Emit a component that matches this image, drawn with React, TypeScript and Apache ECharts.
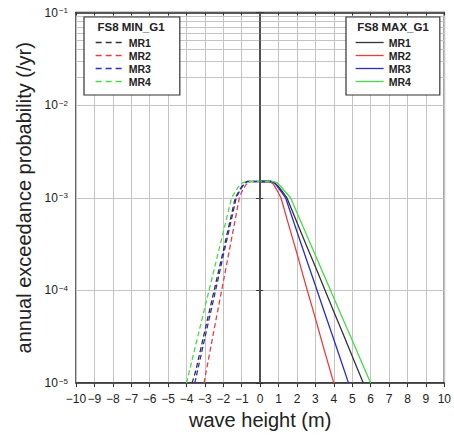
import React, { useEffect, useRef } from "react";
import * as echarts from "echarts";

const xTicks = [-10, -9, -8, -7, -6, -5, -4, -3, -2, -1, 0, 1, 2, 3, 4, 5, 6, 7, 8, 9, 10];
const decades = [1e-5, 1e-4, 1e-3, 1e-2, 1e-1];
const minorMultipliers = [2, 3, 4, 5, 6, 7, 8, 9];

const seriesNames = ["MR1", "MR2", "MR3", "MR4"];
const seriesColors = ["#333333", "#ee3b3b", "#2b2bd6", "#44dd44"];

// MAX_G1 (solid) curves: [wave height, annual exceedance probability]
const maxMR1 = [[0, 1.5e-3], [0.6, 1.5e-3], [0.8, 1.45e-3], [1.0, 1.32e-3], [1.2, 1.17e-3], [1.45, 1e-3], [2, 5.4e-4], [2.5, 3.1e-4], [3, 1.8e-4], [3.5, 1.03e-4], [4, 5.9e-5], [4.5, 3.4e-5], [5, 1.95e-5], [5.6, 1e-5]];
const maxMR2 = [[0, 1.5e-3], [0.5, 1.5e-3], [0.7, 1.42e-3], [0.9, 1.22e-3], [1.13, 1e-3], [1.5, 5.5e-4], [2, 2.5e-4], [2.5, 1.1e-4], [3, 5.0e-5], [3.5, 2.2e-5], [4, 1e-5]];
const maxMR3 = [[0, 1.5e-3], [0.6, 1.5e-3], [0.8, 1.43e-3], [1.0, 1.27e-3], [1.2, 1.12e-3], [1.38, 1e-3], [2, 4.3e-4], [2.5, 2.2e-4], [3, 1.13e-4], [3.5, 5.75e-5], [4, 2.95e-5], [4.5, 1.5e-5], [4.8, 1e-5]];
const maxMR4 = [[0, 1.5e-3], [0.7, 1.5e-3], [0.9, 1.46e-3], [1.1, 1.34e-3], [1.3, 1.2e-3], [1.65, 1e-3], [2, 6.9e-4], [2.5, 4.06e-4], [3, 2.4e-4], [3.5, 1.41e-4], [4, 8.3e-5], [4.5, 4.9e-5], [5, 2.9e-5], [5.5, 1.7e-5], [6, 1e-5]];

// MIN_G1 (dashed) curves
const minMR1 = [[-3.7, 1e-5], [-3.5, 1.35e-5], [-3, 3.7e-5], [-2.5, 1.0e-4], [-2, 2.7e-4], [-1.5, 7.4e-4], [-1.35, 1e-3], [-1.1, 1.23e-3], [-0.9, 1.42e-3], [-0.7, 1.5e-3], [0.6, 1.5e-3]];
const minMR2 = [[-3.05, 1e-5], [-2.5, 3.8e-5], [-2, 1.24e-4], [-1.5, 4.1e-4], [-1.13, 1e-3], [-1.0, 1.16e-3], [-0.8, 1.36e-3], [-0.6, 1.5e-3], [0.6, 1.5e-3]];
const minMR3 = [[-3.55, 1e-5], [-3, 3.1e-5], [-2.5, 8.5e-5], [-2, 2.4e-4], [-1.5, 6.6e-4], [-1.3, 1e-3], [-1.1, 1.2e-3], [-0.9, 1.38e-3], [-0.7, 1.5e-3], [0.6, 1.5e-3]];
const minMR4 = [[-4, 1e-5], [-3.5, 2.57e-5], [-3, 6.6e-5], [-2.5, 1.68e-4], [-2, 4.3e-4], [-1.55, 1e-3], [-1.4, 1.12e-3], [-1.2, 1.3e-3], [-1.0, 1.43e-3], [-0.8, 1.5e-3], [0.6, 1.5e-3]];

const maxData = [maxMR1, maxMR2, maxMR3, maxMR4];
const minData = [minMR1, minMR2, minMR3, minMR4];

const FONT = "'Liberation Sans', Arial, Helvetica, sans-serif";

export default function App() {
  const ref = useRef<HTMLDivElement>(null);
  useEffect(() => {
    if (!ref.current) return;
    const chart = echarts.init(ref.current, null, { renderer: "svg" });

    const minorValues: number[] = [];
    decades.slice(0, -1).forEach((d) => minorMultipliers.forEach((m) => minorValues.push(m * d)));

    const series: any[] = [];
    series.push({
      type: "line",
      name: "grid",
      data: [],
      silent: true,
      z: 1,
      markLine: {
        silent: true,
        symbol: "none",
        label: { show: false },
        lineStyle: { color: "#c4c4c4", width: 1, type: "solid" },
        data: minorValues.map((v) => ({ yAxis: v })),
      },
    });
    maxData.forEach((d, i) => {
      series.push({
        type: "line",
        name: "MAX " + seriesNames[i],
        data: d,
        symbol: "none",
        z: 3,
        lineStyle: { color: seriesColors[i], width: 1.3, type: "solid" },
        itemStyle: { color: seriesColors[i] },
      });
    });
    minData.forEach((d, i) => {
      series.push({
        type: "line",
        name: "MIN " + seriesNames[i],
        data: d,
        symbol: "none",
        z: 4,
        lineStyle: { color: seriesColors[i], width: 1.3, type: [5, 3] },
        itemStyle: { color: seriesColors[i] },
      });
    });
    series.push({
      type: "line",
      name: "zero",
      data: [],
      silent: true,
      z: 2,
      markLine: {
        silent: true,
        symbol: "none",
        label: { show: false },
        lineStyle: { color: "#555", width: 1.6, type: "solid" },
        data: [{ xAxis: 0 }],
      },
    });

    const legendCommon = {
      orient: "vertical",
      itemWidth: 28,
      itemHeight: 11,
      itemGap: 2,
      backgroundColor: "#fff",
      borderColor: "#333",
      borderWidth: 1.2,
      borderRadius: 0,
      textStyle: { fontFamily: FONT, fontWeight: "bold", fontSize: 10.5, color: "#222" },
      formatter: (n: string) => n.replace(/^M(IN|AX) /, ""),
      selectedMode: false,
      z: 10,
    };

    const legendItems = (prefix: string, dashed: boolean) =>
      seriesNames.map((n, i) => ({
        name: prefix + n,
        itemStyle: { opacity: 0 },
        lineStyle: { color: seriesColors[i], width: 1.3, type: dashed ? [6, 4] : "solid", opacity: 1 },
      }));

    const supExp = (v: number) => {
      const e = Math.round(Math.log10(v));
      return "{b|10}{s|" + (e < 0 ? "\u2212" + Math.abs(e) : String(e)) + "}";
    };

    chart.setOption({
      animation: false,
      backgroundColor: "#fff",
      grid: { left: 76, right: 6, top: 12.5, bottom: 49, show: true, borderColor: "#333", borderWidth: 1.5, backgroundColor: "transparent" },
      legend: [
        { ...legendCommon, left: 84, top: 17, padding: [20, 29, 8, 11], data: legendItems("MIN ", true) },
        { ...legendCommon, left: 346, top: 17, padding: [20, 29, 8, 9], data: legendItems("MAX ", false) },
      ],
      graphic: [
        { type: "text", x: 131, y: 27, z: 100, style: { text: "FS8 MIN_G1", fontFamily: FONT, fontWeight: "bold", fontSize: 11.5, fill: "#222", align: "center", verticalAlign: "middle" } },
        { type: "text", x: 393, y: 27, z: 100, style: { text: "FS8 MAX_G1", fontFamily: FONT, fontWeight: "bold", fontSize: 11.5, fill: "#222", align: "center", verticalAlign: "middle" } },
      ],
      xAxis: [
        {
          type: "value",
          min: xTicks[0],
          max: xTicks[xTicks.length - 1],
          interval: 1,
          position: "bottom",
          name: "wave height (m)",
          nameLocation: "middle",
          nameGap: 25,
          nameTextStyle: { fontFamily: FONT, fontSize: 20, color: "#222" },
          axisLine: { show: true, lineStyle: { color: "#333", width: 1.5 } },
          axisTick: { show: true, length: 4, inside: false, lineStyle: { color: "#333" } },
          axisLabel: {
            fontFamily: FONT,
            fontSize: 12,
            color: "#222",
            margin: 10,
            formatter: (v: number) => (v < 0 ? "\u2212" + Math.abs(v) : String(v)),
          },
          splitLine: { show: true, lineStyle: { color: "#c4c4c4", width: 1 } },
        },
        {
          type: "value",
          min: xTicks[0],
          max: xTicks[xTicks.length - 1],
          interval: 1,
          position: "top",
          axisLine: { show: true, lineStyle: { color: "#333", width: 1.5 } },
          axisTick: { show: true, length: 3, inside: true, lineStyle: { color: "#333" } },
          axisLabel: { show: false },
          splitLine: { show: false },
        },
      ],
      yAxis: [
        {
          type: "log",
          logBase: 10,
          min: decades[0],
          max: decades[decades.length - 1],
          position: "left",
          name: "annual exceedance probability (/yr)",
          nameLocation: "middle",
          nameGap: 39,
          nameTextStyle: { fontFamily: FONT, fontSize: 20, color: "#222" },
          axisLine: { show: true, lineStyle: { color: "#333", width: 1.5 } },
          axisTick: { show: true, length: 4, lineStyle: { color: "#333" } },
          axisLabel: {
            margin: 8,
            formatter: supExp,
            rich: {
              b: { fontFamily: FONT, fontSize: 12, color: "#222" },
              s: { fontFamily: FONT, fontSize: 8, color: "#222", verticalAlign: "top", padding: [0, 0, 0, 1] },
            },
          },
          splitLine: { show: true, lineStyle: { color: "#c4c4c4", width: 1 } },
        },
        {
          type: "log",
          logBase: 10,
          min: decades[0],
          max: decades[decades.length - 1],
          position: "right",
          axisLine: { show: true, lineStyle: { color: "#333", width: 1.5 } },
          axisTick: { show: true, length: 3, lineStyle: { color: "#333" } },
          axisLabel: { show: false },
          splitLine: { show: false },
        },
      ],
      series,
    });
    return () => chart.dispose();
  }, []);
  return <div ref={ref} style={{ position: "absolute", left: 0, top: 0, width: 454, height: 435 }} />;
}
